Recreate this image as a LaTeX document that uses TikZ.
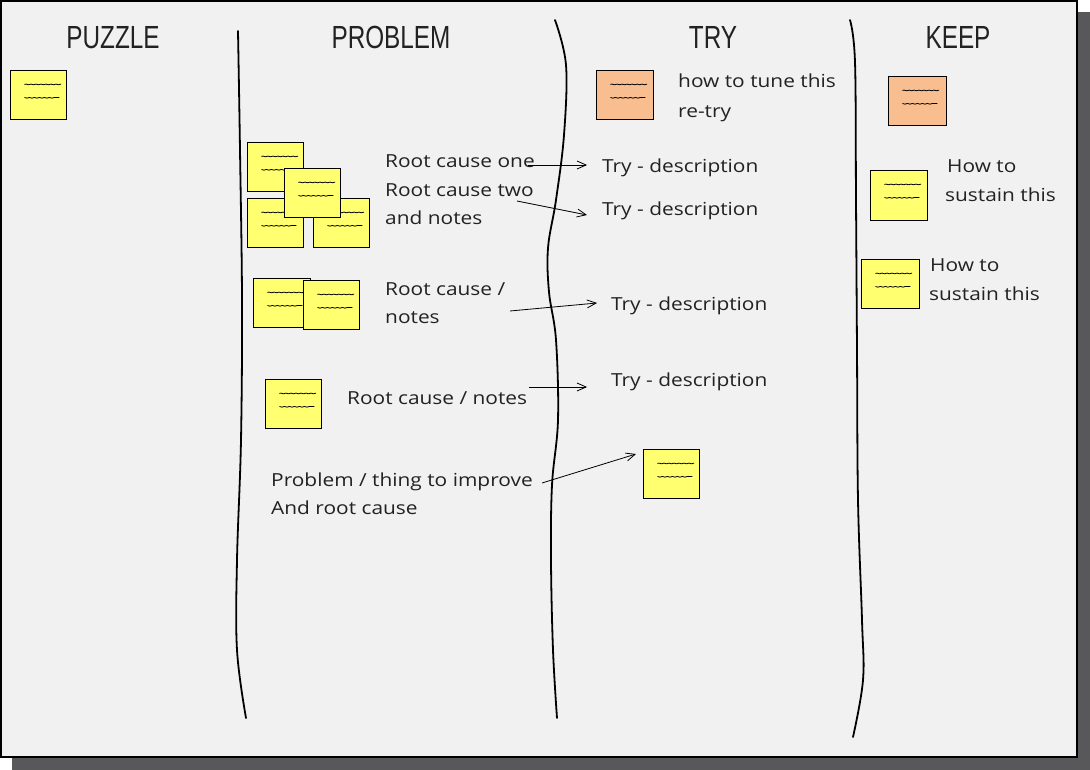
\documentclass[tikz,border=0pt]{standalone}
\usepackage{fontspec}
\setmainfont{Open Sans}
\newfontfamily\headfont[FakeStretch=0.76]{Liberation Sans}
\newfontfamily\handfont[FakeStretch=1.16]{Open Sans}
\usetikzlibrary{arrows.meta,decorations.pathmorphing}
\definecolor{bg}{HTML}{F2F1F2}
\definecolor{shadowgray}{HTML}{58575A}
\definecolor{noteyellow}{HTML}{FFFF70}
\definecolor{noteorange}{HTML}{F8BE90}
\definecolor{textgray}{HTML}{222222}
\begin{document}
\begin{tikzpicture}[x=1pt,y=-1pt,
  note/.style={draw=black,line width=0.9pt,fill=noteyellow,minimum width=56pt,minimum height=49pt,inner sep=0pt,anchor=north west,
    path picture={\draw[line width=0.8pt,decorate,decoration={snake,amplitude=0.35pt,segment length=5pt}]
      ([xshift=14pt,yshift=-14pt]path picture bounding box.north west) -- ++(35pt,0pt)
      ([xshift=14pt,yshift=-27pt]path picture bounding box.north west) -- ++(35pt,0pt);}},
  orangenote/.style={note,fill=noteorange},
  head/.style={font=\headfont\fontsize{32}{32}\selectfont,text=textgray,inner sep=0pt,anchor=base},
  hand/.style={font=\handfont\fontsize{18}{22}\selectfont,text=textgray,inner sep=0pt,anchor=base west},
  conn/.style={line width=0.8pt,-{Straight Barb[length=9pt,width=8pt]}},
  divider/.style={line width=1.8pt,line cap=round}
]
\useasboundingbox (0,0) rectangle (1090,770);
% frame and shadow
\fill[shadowgray] (12,12) rectangle (1090,770);
\filldraw[fill=bg,draw=black,line width=1.5pt] (1,1) rectangle (1077,757);

% headers
\node[head] (hpuzzle) at (113,49) {PUZZLE};
\node[head] (hproblem) at (391,49) {PROBLEM};
\node[head] (htry) at (713,49) {TRY};
\node[head] (hkeep) at (958,49) {KEEP};

% dividers
\draw[divider] plot[smooth,tension=0.6] coordinates {(238,31) (240,150) (242,300) (241,440) (237,560) (237,650) (246,718)};
\draw[divider] plot[smooth,tension=0.6] coordinates {(555,20) (566,65) (564,135) (556,200) (548,248) (549,292) (556,340) (558,420) (552,485) (551,560) (553,650) (557,718)};
\draw[divider] plot[smooth,tension=0.6] coordinates {(850,20) (855,62) (856,200) (857,350) (858,500) (862,620) (863,680) (853,737)};

% puzzle
\node[note] (p1) at (10,70) {};

% problem notes
\node[note] (n1) at (247,142) {};
\node[note] (n2) at (247,198) {};
\node[note] (n3) at (313,198) {};
\node[note] (n4) at (284,168) {};
\node[note,minimum width=57pt] (n5) at (253,278) {};
\node[note] (n6) at (303,280) {};
\node[note] (n7) at (265,379) {};

% try notes
\node[orangenote,minimum width=57pt] (t1) at (596,70) {};
\node[note] (t2) at (643,449) {};

% keep notes
\node[orangenote,minimum width=58pt] (k1) at (888,76) {};
\node[note,minimum width=57pt,minimum height=50pt] (k2) at (870,170) {};
\node[note,minimum width=58pt] (k3) at (861,259) {};

% texts
\node[hand] (tune1) at (678,88) {how to tune this};
\node[hand] (tune2) at (678,118) {re-try};

\node[hand] (rc1) at (385,168) {Root cause one};
\node[hand] (rc2) at (385,197) {Root cause two};
\node[hand] (rc3) at (385,225) {and notes};

\node[hand] (try1) at (602,173) {Try - description};
\node[hand] (try2) at (602,216) {Try - description};

\node[hand] (rc4) at (385,295) {Root cause /};
\node[hand] (rc5) at (385,323) {notes};
\node[hand] (try3) at (611,310) {Try - description};

\node[hand] (rc6) at (347,404) {Root cause / notes};
\node[hand] (try4) at (611,386) {Try - description};

\node[hand] (pr1) at (271,486) {Problem / thing to improve};
\node[hand] (pr2) at (271,514) {And root cause};

\node[hand] (ks1) at (947,173) {How to};
\node[hand] (ks2) at (945,202) {sustain this};
\node[hand] (ks3) at (930,272) {How to};
\node[hand] (ks4) at (929,300) {sustain this};

% connectors
\coordinate (a1s) at (528,165); \coordinate (a1e) at (587,165);
\coordinate (a2s) at (517,201); \coordinate (a2e) at (587,215);
\coordinate (a3s) at (510,311); \coordinate (a3e) at (597,303);
\coordinate (a4s) at (529,387); \coordinate (a4e) at (587,387);
\coordinate (a5s) at (542,483); \coordinate (a5e) at (636,454);
\draw[conn] (a1s) -- (a1e);
\draw[conn] (a2s) -- (a2e);
\draw[conn] (a3s) -- (a3e);
\draw[conn] (a4s) -- (a4e);
\draw[conn] (a5s) -- (a5e);
\end{tikzpicture}
\end{document}
